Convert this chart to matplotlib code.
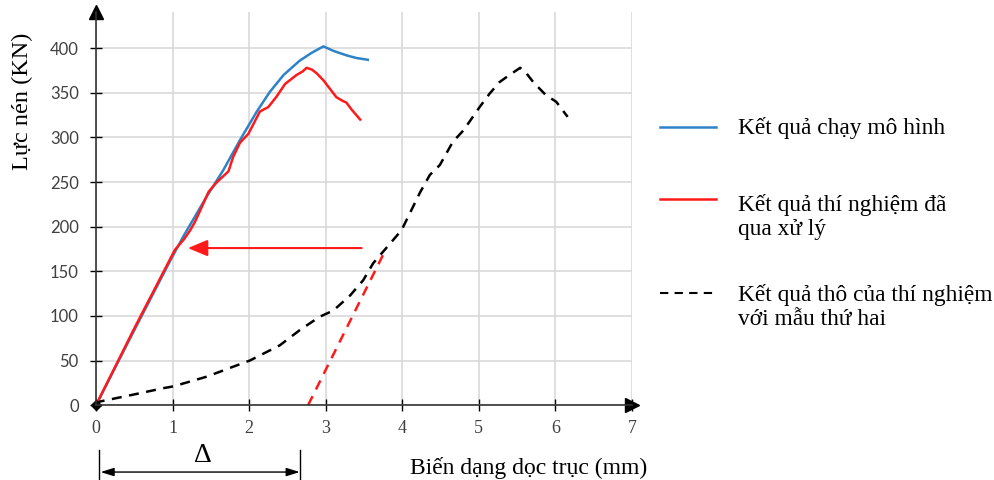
import matplotlib
matplotlib.use("Agg")
import matplotlib.pyplot as plt

plt.rcParams['font.family'] = ['Liberation Serif', 'DejaVu Serif']

# Model result (blue)
model_x = [0, 0.5, 0.97, 1.14, 1.44, 1.66, 1.88, 2.10, 2.27, 2.45, 2.66, 2.82, 2.97, 3.1, 3.27, 3.4, 3.55]
model_y = [0, 84, 162, 189, 233, 263, 297, 329, 351, 370, 386, 395, 402, 397, 392, 389, 387]

# Processed test result (red)
test_x = [0, 0.5, 1.03, 1.15, 1.23, 1.29, 1.36, 1.47, 1.58, 1.73, 1.79, 1.88, 1.99, 2.05, 2.14, 2.25,
          2.36, 2.47, 2.53, 2.62, 2.70, 2.75, 2.82, 2.88, 2.97, 3.05, 3.14, 3.22, 3.27, 3.34, 3.45]
test_y = [0, 86, 174, 186, 196, 205, 218, 239, 250, 262, 278, 294, 304, 314, 329, 334,
          346, 360, 364, 370, 374, 378, 376, 372, 364, 355, 345, 341, 339, 331, 320]

# Raw test result, second specimen (black dashed)
raw_x = [0, 0.05, 0.5, 0.88, 1.01, 1.45, 1.79, 2.01, 2.40, 2.66, 2.92, 3.10, 3.32, 3.49, 3.62, 3.80,
         3.99, 4.23, 4.36, 4.49, 4.66, 4.80, 5.01, 5.14, 5.27, 5.40, 5.54, 5.62, 5.71, 5.88, 6.01, 6.16]
raw_y = [0, 4, 12, 19, 21, 32, 43, 50, 67, 84, 99, 106, 123, 140, 159, 177,
         196, 238, 258, 269, 295, 308, 334, 349, 362, 370, 378, 372, 362, 347, 340, 323]

# Offset line (red dashed)
offset_x = [2.77, 3.77]
offset_y = [0, 172]

# Arrow (red)
arrow_from = (3.47, 176)
arrow_to = (1.2, 176)

labels = ["Kết quả chạy mô hình",
          "Kết quả thí nghiệm đã\nqua xử lý",
          "Kết quả thô của thí nghiệm\nvới mẫu thứ hai"]

xticks = [0, 1, 2, 3, 4, 5, 6, 7]
yticks = [0, 50, 100, 150, 200, 250, 300, 350, 400]

fig = plt.figure(figsize=(9.94, 4.8), dpi=100)
ax = fig.add_axes([0.0966, 0.156, 0.5392, 0.818])
ax.set_xlim(0, 7)
ax.set_ylim(0, 440)

ax.grid(True, color='#d9d9d9', lw=1.2)
ax.set_axisbelow(True)
ax.set_xticks(xticks)
ax.set_yticks(yticks)
ax.tick_params(axis='x', direction='inout', length=8, width=1, labelsize=13,
               labelcolor='#404040', pad=7)
ax.tick_params(axis='y', direction='inout', length=9, width=1, labelsize=12,
               labelcolor='#404040', pad=8)
for lab in ax.get_yticklabels():
    lab.set_family(['Lato', 'DejaVu Sans'])

for s in ['top', 'right']:
    ax.spines[s].set_visible(False)
for s in ['left', 'bottom']:
    ax.spines[s].set_color('#333333')
    ax.spines[s].set_linewidth(1.2)

# axis arrowheads
ax.plot(1, 0, '>', color='black', markersize=10, transform=ax.transAxes, clip_on=False)
ax.plot(0, 1, '^', color='black', markersize=10, transform=ax.transAxes, clip_on=False)

l1, = ax.plot(model_x, model_y, color='#2e82c8', lw=1.8)
l2, = ax.plot(test_x, test_y, color='#ff1a1a', lw=1.8)
l3, = ax.plot(raw_x, raw_y, color='black', lw=1.8, ls=(0, (4, 3)))
ax.plot(offset_x, offset_y, color='#ff1a1a', lw=1.8, ls=(0, (4, 3)))
ax.plot([0], [0], 'D', color='black', markersize=5, clip_on=False)

ax.annotate('', xy=arrow_to, xytext=arrow_from,
            arrowprops=dict(arrowstyle='-|>,head_length=1.2,head_width=0.5',
                            color='#ff1a1a', lw=1.5, shrinkA=0, shrinkB=0))

# Delta annotation below axis
ax.annotate('', xy=(0.06, -75), xytext=(2.66, -75), annotation_clip=False,
            arrowprops=dict(arrowstyle='<|-|>,head_length=0.8,head_width=0.25',
                            color='black', lw=1, shrinkA=0, shrinkB=0))
ax.plot([0.04, 0.04], [-50, -85], color='black', lw=1, clip_on=False)
ax.plot([2.66, 2.66], [-50, -85], color='black', lw=1, clip_on=False)
ax.text(1.40, -57, 'Δ', ha='center', va='center', fontsize=20)

fig.text(22 / 994, 1 - 101 / 480, 'Lực nén (KN)', rotation=90, ha='center', va='center',
         fontsize=17.5)
fig.text(529 / 994, 1 - 468 / 480, 'Biến dạng dọc trục (mm)', ha='center', va='center',
         fontsize=17)

# Legend drawn manually
leg_y = [0.735, 0.585, 0.39]
text_y = [0.733, 0.548, 0.36]
styles = [dict(color='#2e82c8', lw=1.8), dict(color='#ff1a1a', lw=1.8),
          dict(color='black', lw=1.5, ls=(0, (4, 3)))]
for ly, ty, st, lab in zip(leg_y, text_y, styles, labels):
    fig.add_artist(plt.Line2D([0.664, 0.72], [ly, ly], transform=fig.transFigure, **st))
    fig.text(0.742, ty, lab, ha='left', va='center', fontsize=16.8, linespacing=1.2)

fig.savefig('out.png', dpi=100)
